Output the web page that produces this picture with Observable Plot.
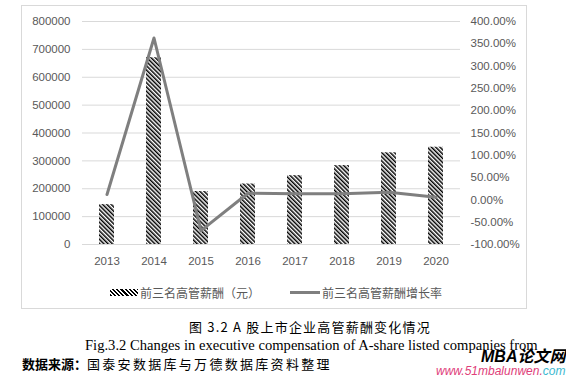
<!DOCTYPE html>
<html><head><meta charset="utf-8">
<script src="https://cdn.jsdelivr.net/npm/d3@7"></script>
<script src="https://cdn.jsdelivr.net/npm/@observablehq/plot@0.6"></script>
<style>
body{margin:0;background:#fff;}
#wrap{position:relative;width:566px;height:378px;overflow:hidden;font-family:"Liberation Sans",Arial,sans-serif;}
#box{position:absolute;left:21px;top:5px;width:506px;height:304px;border:1px solid #d9d9d9;box-sizing:border-box;}
#chart{position:absolute;left:21px;top:5px;}
.leg{position:absolute;font-family:"Noto Sans CJK SC",sans-serif;font-size:12px;color:#595959;line-height:14px;white-space:nowrap;}
.cap{position:absolute;white-space:nowrap;color:#000;line-height:1.2;}
</style></head>
<body><div id="wrap">
<div id="box"></div>
<div id="chart"></div>
<div class="leg" style="left:110px;top:289px;width:28px;height:7px;background:repeating-linear-gradient(45deg,#000 0 1.5px,#fff 1.5px 3px);"></div>
<div class="leg" style="left:140px;top:286px;">前三名高管薪酬（元）</div>
<div class="leg" style="left:290px;top:291px;width:30px;height:3px;background:#7f7f7f;"></div>
<div class="leg" style="left:322px;top:286px;">前三名高管薪酬增长率</div>
<div class="cap" style="left:189px;top:319px;font-family:'Noto Sans CJK SC',serif;font-size:13px;letter-spacing:1.2px;">图 3.2 A 股上市企业高管薪酬变化情况</div>
<div class="cap" style="left:85px;top:337px;font-family:'Liberation Serif','Times New Roman',serif;font-size:14.6px;">Fig.3.2 Changes in executive compensation of A-share listed companies from</div>
<div class="cap" style="left:22px;top:356px;font-family:'Noto Sans CJK SC',sans-serif;font-size:13px;"><b>数据来源：</b><span style="letter-spacing:2.3px;">国泰安数据库与万德数据库资料整理</span></div>
<div class="cap" style="left:481px;top:346px;font-family:'Liberation Sans',Arial,sans-serif;font-size:16px;font-weight:bold;font-style:italic;">MBA<span style="font-family:'Noto Sans CJK SC';">论文网</span></div>
<div class="cap" style="left:436px;top:364px;font-family:'Liberation Sans',Arial,sans-serif;font-size:12px;font-style:italic;"><span style="color:#e0407a;">www.51mbalunwen.</span><span style="color:#3cb8d0;">com</span></div>
</div>
<script>
const years = ["2013","2014","2015","2016","2017","2018","2019","2020"];
const compensation = [143000, 670000, 190000, 217000, 247000, 283000, 329000, 349000];
const growth = [12, 363, -69, 15, 14, 14, 17, 6];
const leftTicks = [0,100000,200000,300000,400000,500000,600000,700000,800000];
const rightTicks = [-100,-50,0,50,100,150,200,250,300,350,400];

const toY = g => (g + 100) * 1600;
const barData = years.map((y,i)=>({year:y, value:compensation[i]}));
const lineData = years.map((y,i)=>({year:y, value:toY(growth[i])}));

const plot = Plot.plot({
  width: 506, height: 304,
  marginLeft: 61, marginRight: 67, marginTop: 16, marginBottom: 65,
  style: {fontSize: "11.5px", fontFamily: "'Liberation Sans', Arial, sans-serif", color: "#595959", background: "transparent"},
  x: {domain: years, paddingInner: 0.68, paddingOuter: 0.34},
  y: {domain: [0, 800000]},
  marks: [
    Plot.ruleY(leftTicks, {stroke: "#d9d9d9", strokeWidth: 1}),
    Plot.barY(barData, {x: "year", y: "value", fill: "url(#hatch)"}),
    Plot.line(lineData, {x: "year", y: "value", stroke: "#7f7f7f", strokeWidth: 3}),
    Plot.axisY({ticks: leftTicks, tickSize: 0, tickPadding: 12, tickFormat: d => String(d), label: null}),
    Plot.axisY({anchor: "right", ticks: rightTicks.map(toY), tickSize: 0, tickPadding: 10, tickFormat: d => (d/1600 - 100).toFixed(2) + "%", label: null}),
    Plot.axisX({tickSize: 0, tickPadding: 12, label: null})
  ]
});
const ns = "http://www.w3.org/2000/svg";
const defs = document.createElementNS(ns, "defs");
defs.innerHTML = '<pattern id="hatch" patternUnits="userSpaceOnUse" width="3" height="3" patternTransform="rotate(-45)"><rect width="3" height="3" fill="#fff"/><rect width="1.5" height="3" fill="#000"/></pattern>';
plot.insertBefore(defs, plot.firstChild);
document.getElementById("chart").appendChild(plot);
</script>
</body></html>
